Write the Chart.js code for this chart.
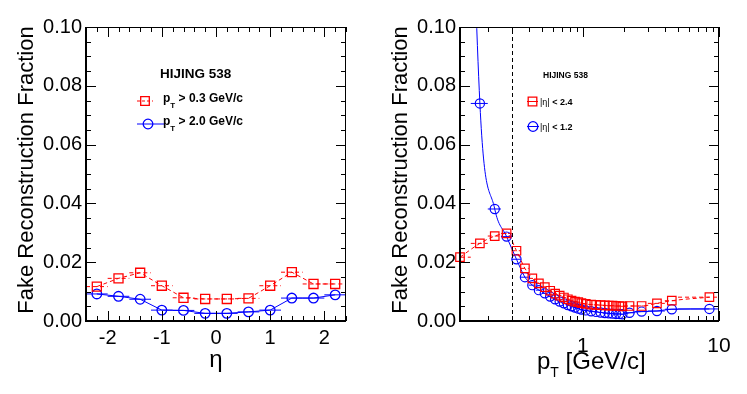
<!DOCTYPE html>
<html lang="en">
<head>
<meta charset="UTF-8">
<title>Fake Reconstruction Fraction</title>
<script src="https://cdn.jsdelivr.net/npm/chart.js"></script>
<style>
  body, html { margin: 0; padding: 0; background: #fff; }
  .panel { position: absolute; top: 0; }
  #left { left: 0; }
  #right { left: 373px; }
</style>
</head>
<body>
<div class="panel" id="left"><canvas id="eta-chart" width="373" height="394"></canvas></div>
<div class="panel" id="right"><canvas id="pt-chart" width="374" height="394"></canvas></div>

<script>
// ---- left panel: fake fraction vs eta ----
const etaCenters = [-2.2, -1.8, -1.4, -1.0, -0.6, -0.2, 0.2, 0.6, 1.0, 1.4, 1.8, 2.2];
const etaEdges = [-2.4, -2.0, -1.6, -1.2, -0.8, -0.4, 0.0, 0.4, 0.8, 1.2, 1.6, 2.0, 2.4];
const fakeEtaPt03 = [0.0117, 0.0145, 0.0164, 0.0120, 0.0079, 0.0075, 0.0075, 0.0077, 0.0120, 0.0166, 0.0126, 0.0126];
const fakeEtaPt20 = [0.0092, 0.0084, 0.0074, 0.0037, 0.0036, 0.0026, 0.0026, 0.0031, 0.0037, 0.0078, 0.0078, 0.0089];
const etaTickLabels = [-2, -1, 0, 1, 2];

// ---- right panel: fake fraction vs pT ----
const ptCenters = [0.125, 0.175, 0.225, 0.275, 0.325, 0.375, 0.425, 0.475, 0.525, 0.575,
  0.625, 0.675, 0.725, 0.775, 0.825, 0.875, 0.925, 0.975,
  1.05, 1.15, 1.25, 1.35, 1.45, 1.55, 1.65, 1.75, 1.85, 1.95,
  2.2, 2.7, 3.5, 4.5, 8.5];
const ptEdges = [0.1, 0.15, 0.2, 0.25, 0.3, 0.35, 0.4, 0.45, 0.5, 0.55, 0.6, 0.65, 0.7, 0.75, 0.8, 0.85, 0.9, 0.95, 1.0,
  1.1, 1.2, 1.3, 1.4, 1.5, 1.6, 1.7, 1.8, 1.9, 2.0,
  2.4, 3.0, 4.0, 5.0, 10.0];
const fakePtEta24 = [0.0217, 0.0264, 0.0289, 0.0298, 0.0239, 0.0179, 0.0145, 0.0128, 0.0115, 0.0103,
  0.0093, 0.0086, 0.0080, 0.0074, 0.0069, 0.0066, 0.0064, 0.0061,
  0.0058, 0.0056, 0.0055, 0.0054, 0.0053, 0.0052, 0.0052, 0.0051, 0.0051, 0.0050,
  0.0051, 0.0051, 0.0060, 0.0069, 0.0081];
const fakePtEta12 = [0.3000, 0.0740, 0.0381, 0.0287, 0.0210, 0.0149, 0.0122, 0.0105, 0.0094, 0.0083,
  0.0074, 0.0066, 0.0060, 0.0054, 0.0050, 0.0046, 0.0042, 0.0039,
  0.0036, 0.0033, 0.0031, 0.0029, 0.0027, 0.0026, 0.0025, 0.0024, 0.0024, 0.0023,
  0.0028, 0.0032, 0.0034, 0.0040, 0.0041];
const ptTickLabels = [1, 10];
const ptMinorTicks = [0.2, 0.3, 0.4, 0.5, 0.6, 0.7, 0.8, 0.9, 2, 3, 4, 5, 6, 7, 8, 9];
const ptCut = 0.3;

const yTickLabels = [0, 0.02, 0.04, 0.06, 0.08, 0.10];

const RED = '#ff0000';
const BLUE = '#0000ff';
const FONT = '"Liberation Sans", Arial, sans-serif';

function toPoints(xs, ys) {
  return xs.map((x, i) => ({ x: x, y: ys[i] }));
}

// horizontal error bars = bin width, drawn under the markers
const errorBars = {
  id: 'errorBars',
  beforeDatasetsDraw(chart) {
    const { ctx, chartArea: a, scales } = chart;
    ctx.save();
    ctx.beginPath();
    ctx.rect(a.left, a.top, a.width, a.height);
    ctx.clip();
    chart.data.datasets.forEach(ds => {
      const edges = ds.edges;
      ctx.strokeStyle = ds.borderColor;
      ctx.lineWidth = 1;
      ctx.setLineDash(ds.borderDash || []);
      ctx.beginPath();
      ds.data.forEach((p, i) => {
        const py = scales.y.getPixelForValue(p.y);
        ctx.moveTo(scales.x.getPixelForValue(edges[i]), py);
        ctx.lineTo(scales.x.getPixelForValue(edges[i + 1]), py);
      });
      ctx.stroke();
    });
    ctx.restore();
  }
};

function text(ctx, str, x, y, font, align) {
  ctx.font = font;
  ctx.textAlign = align || 'left';
  ctx.fillText(str, x, y);
  return ctx.measureText(str).width;
}

// ROOT-like frame with inward ticks, titles, legend
function frame(spec) {
  return {
    id: 'rootFrame',
    afterDraw(chart) {
      const { ctx, chartArea: a, scales: { x, y } } = chart;
      ctx.save();
      ctx.strokeStyle = '#000';
      ctx.fillStyle = '#000';
      ctx.lineWidth = 1;

      ctx.beginPath();
      for (let v = 0; v <= 0.1001; v += 0.005) {
        const py = Math.round(y.getPixelForValue(v)) + 0.5;
        const len = Math.abs(v / 0.02 - Math.round(v / 0.02)) < 1e-6 ? 10 : 5;
        ctx.moveTo(a.left, py); ctx.lineTo(a.left + len, py);
        ctx.moveTo(a.right, py); ctx.lineTo(a.right - len, py);
      }
      spec.xMajor.forEach(v => {
        const px = Math.round(x.getPixelForValue(v)) + 0.5;
        ctx.moveTo(px, a.bottom); ctx.lineTo(px, a.bottom - 10);
        ctx.moveTo(px, a.top); ctx.lineTo(px, a.top + 10);
      });
      spec.xMinor.forEach(v => {
        const px = Math.round(x.getPixelForValue(v)) + 0.5;
        ctx.moveTo(px, a.bottom); ctx.lineTo(px, a.bottom - 5);
        ctx.moveTo(px, a.top); ctx.lineTo(px, a.top + 5);
      });
      ctx.stroke();
      ctx.strokeRect(a.left + 0.5, a.top + 0.5, a.width - 1, a.height - 1);

      ctx.lineWidth = 2;
      ctx.beginPath();
      ctx.moveTo(a.left, a.top); ctx.lineTo(a.left, a.bottom); ctx.lineTo(a.right, a.bottom);
      ctx.stroke();

      if (spec.cut) {
        const px = Math.round(x.getPixelForValue(spec.cut)) + 0.5;
        ctx.lineWidth = 1;
        ctx.setLineDash([4, 3]);
        ctx.beginPath();
        ctx.moveTo(px, a.bottom); ctx.lineTo(px, a.top);
        ctx.stroke();
        ctx.setLineDash([]);
      }

      // y title
      ctx.save();
      ctx.translate(a.left - 53, 170);
      ctx.rotate(-Math.PI / 2);
      text(ctx, 'Fake Reconstruction Fraction', 0, 0, '22px ' + FONT, 'center');
      ctx.restore();

      spec.drawExtra(ctx, a);
      ctx.restore();
    }
  };
}

function legendMarker(ctx, style, color, x, y, x0, x1, dash) {
  ctx.save();
  ctx.strokeStyle = color;
  ctx.lineWidth = 1;
  ctx.setLineDash(dash || []);
  ctx.beginPath();
  ctx.moveTo(x0, y); ctx.lineTo(x1, y);
  ctx.stroke();
  ctx.setLineDash([]);
  ctx.lineWidth = 1.3;
  ctx.beginPath();
  if (style === 'rect') ctx.rect(x - 4.3, y - 4.3, 8.6, 8.6);
  else ctx.arc(x, y, 4.8, 0, Math.PI * 2);
  ctx.stroke();
  ctx.restore();
}

const yScale = {
  min: 0,
  max: 0.1,
  afterBuildTicks: s => { s.ticks = yTickLabels.map(v => ({ value: v })); },
  afterFit: s => { s.width = 86; },
  grid: { display: false, drawTicks: false },
  border: { display: false },
  ticks: { padding: 4, color: '#000', font: { family: FONT, size: 20 }, callback: v => v.toFixed(2) }
};

// left chart
new Chart(document.getElementById('eta-chart'), {
  type: 'line',
  data: {
    datasets: [
      {
        label: 'pT > 0.3 GeV/c',
        data: toPoints(etaCenters, fakeEtaPt03),
        edges: etaEdges,
        borderColor: RED, borderWidth: 1, borderDash: [4, 3],
        pointStyle: 'rect', pointRadius: 6.4, pointBorderWidth: 1.3,
        pointBorderColor: RED, pointBackgroundColor: 'rgba(0,0,0,0)', tension: 0
      },
      {
        label: 'pT > 2.0 GeV/c',
        data: toPoints(etaCenters, fakeEtaPt20),
        edges: etaEdges,
        borderColor: BLUE, borderWidth: 1,
        pointStyle: 'circle', pointRadius: 4.8, pointBorderWidth: 1.3,
        pointBorderColor: BLUE, pointBackgroundColor: 'rgba(0,0,0,0)', tension: 0
      }
    ]
  },
  options: {
    responsive: false, animation: false, devicePixelRatio: 1, events: [],
    layout: { padding: { left: 0, top: 27, right: 27, bottom: 0 } },
    plugins: { legend: { display: false }, tooltip: { enabled: false } },
    scales: {
      x: {
        type: 'linear', min: -2.4, max: 2.4,
        afterBuildTicks: s => { s.ticks = etaTickLabels.map(v => ({ value: v })); },
        afterFit: s => { s.height = 73; },
        grid: { display: false, drawTicks: false },
        border: { display: false },
        ticks: { padding: 5, color: '#000', font: { family: FONT, size: 20 }, callback: v => String(v) }
      },
      y: yScale
    }
  },
  plugins: [errorBars, frame({
    xMajor: etaTickLabels,
    xMinor: [-2.4, -2.2, -1.8, -1.6, -1.4, -1.2, -0.8, -0.6, -0.4, -0.2, 0.2, 0.4, 0.6, 0.8, 1.2, 1.4, 1.6, 1.8, 2.2, 2.4],
    drawExtra(ctx, a) {
      text(ctx, '\u03b7', 216, 367, '24px ' + FONT, 'center');
      text(ctx, 'HIJING 538', 160, 78, 'bold 13.5px ' + FONT);
      legendMarker(ctx, 'rect', RED, 145, 101, 137, 153, [3, 2]);
      legendMarker(ctx, 'circle', BLUE, 148, 124, 137, 165);
      let w = text(ctx, 'p', 163, 102, 'bold 12px ' + FONT);
      let w2 = text(ctx, 'T', 163 + w, 108, 'bold 8px ' + FONT);
      text(ctx, ' > 0.3 GeV/c', 163 + w + w2, 102, 'bold 12px ' + FONT);
      w = text(ctx, 'p', 163, 125, 'bold 12px ' + FONT);
      w2 = text(ctx, 'T', 163 + w, 131, 'bold 8px ' + FONT);
      text(ctx, ' > 2.0 GeV/c', 163 + w + w2, 125, 'bold 12px ' + FONT);
    }
  })]
});

// right chart
new Chart(document.getElementById('pt-chart'), {
  type: 'line',
  data: {
    datasets: [
      {
        label: '|eta| < 2.4',
        data: toPoints(ptCenters, fakePtEta24),
        edges: ptEdges,
        borderColor: RED, borderWidth: 1, borderDash: [4, 3],
        pointStyle: 'rect', pointRadius: 6, pointBorderWidth: 1.2,
        pointBorderColor: RED, pointBackgroundColor: 'rgba(0,0,0,0)',
        cubicInterpolationMode: 'monotone', clip: false
      },
      {
        label: '|eta| < 1.2',
        data: toPoints(ptCenters, fakePtEta12),
        edges: ptEdges,
        borderColor: BLUE, borderWidth: 1,
        pointStyle: 'circle', pointRadius: 4.6, pointBorderWidth: 1.2,
        pointBorderColor: BLUE, pointBackgroundColor: 'rgba(0,0,0,0)',
        cubicInterpolationMode: 'monotone'
      }
    ]
  },
  options: {
    responsive: false, animation: false, devicePixelRatio: 1, events: [],
    layout: { padding: { left: 0, top: 27, right: 28, bottom: 0 } },
    plugins: { legend: { display: false }, tooltip: { enabled: false } },
    scales: {
      x: {
        type: 'logarithmic', min: 0.125, max: 10,
        afterBuildTicks: s => { s.ticks = ptTickLabels.map(v => ({ value: v })); },
        afterFit: s => { s.height = 73; },
        grid: { display: false, drawTicks: false },
        border: { display: false },
        ticks: { padding: 13, color: '#000', font: { family: FONT, size: 21 }, callback: v => String(v) }
      },
      y: Object.assign({}, yScale, { afterFit: s => { s.width = 87; } })
    }
  },
  plugins: [errorBars, frame({
    xMajor: ptTickLabels,
    xMinor: ptMinorTicks,
    cut: ptCut,
    drawExtra(ctx, a) {
      let w = text(ctx, 'p', 164, 369, '24px ' + FONT);
      let w2 = text(ctx, 'T', 164 + w, 377, '14px ' + FONT);
      text(ctx, ' [GeV/c]', 164 + w + w2, 369, '24px ' + FONT);
      text(ctx, 'HIJING 538', 170, 78, 'bold 8.5px ' + FONT);
      legendMarker(ctx, 'rect', RED, 159.5, 101.5, 154, 165);
      legendMarker(ctx, 'circle', BLUE, 160, 126.5, 154, 166);
      w = text(ctx, '|\u03b7|', 167, 105, '9px ' + FONT);
      text(ctx, ' < 2.4', 167 + w, 105, 'bold 9px ' + FONT);
      w = text(ctx, '|\u03b7|', 167, 130, '9px ' + FONT);
      text(ctx, ' < 1.2', 167 + w, 130, 'bold 9px ' + FONT);
    }
  })]
});
</script>
</body>
</html>
